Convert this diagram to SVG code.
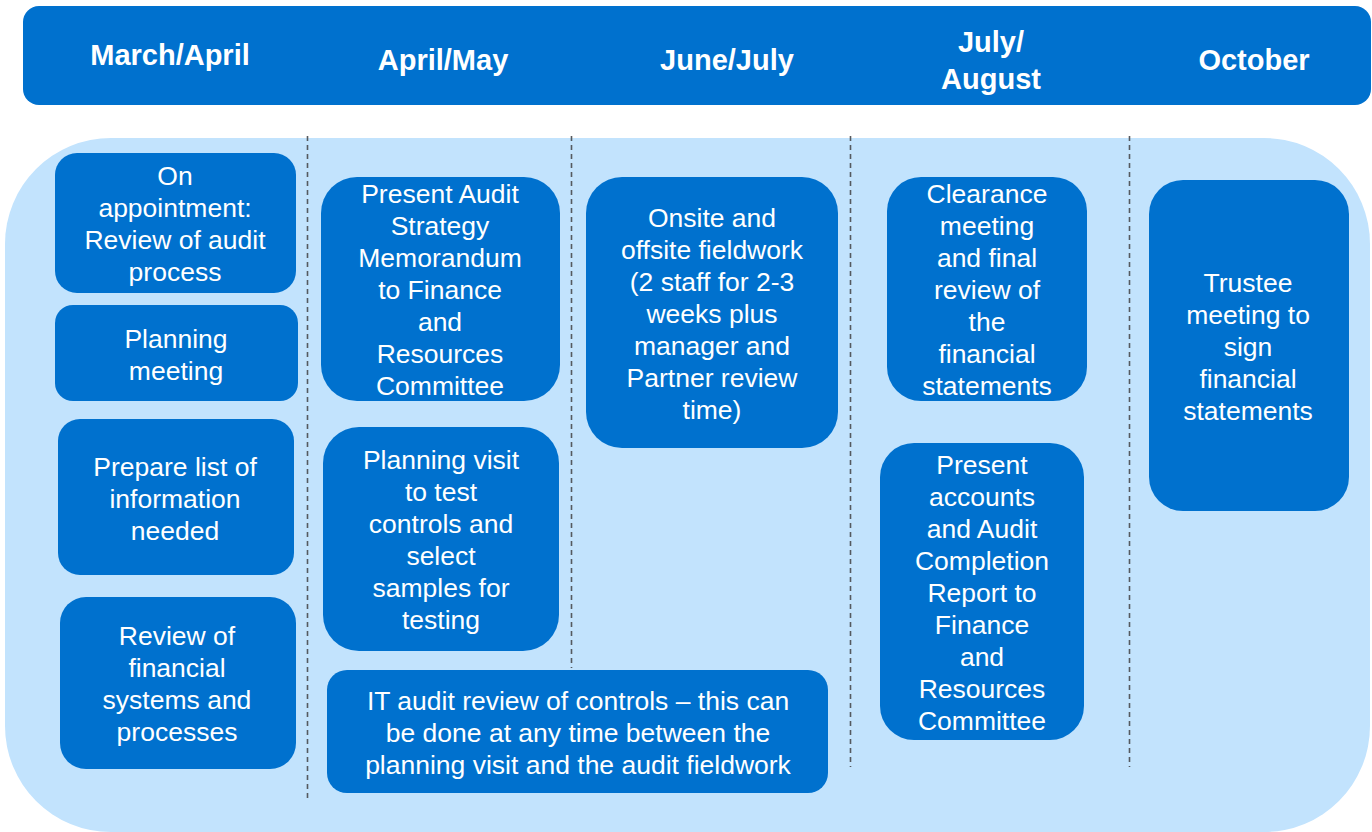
<svg xmlns="http://www.w3.org/2000/svg" width="1372" height="832" viewBox="0 0 1372 832">
  <style>
    .hdr { fill: #0071CE; }
    .bg { fill: #C2E3FD; }
    .box { fill: #0071CE; }
    .sep { stroke: #555A60; stroke-width: 1.6; stroke-dasharray: 5 4; fill: none; }
    .ht { font-family: "Liberation Sans", Arial, sans-serif; font-weight: bold; font-size: 29px; fill: #FFFFFF; text-anchor: middle; }
    .t { font-family: "Liberation Sans", Arial, sans-serif; font-size: 26.5px; fill: #FFFFFF; text-anchor: middle; }
  </style>

  <!-- header band with period titles -->
  <g id="header">
    <rect class="hdr" x="23" y="6" width="1348" height="99" rx="16"/>
    <text class="ht" x="170" y="65">March/April</text>
    <text class="ht" x="443" y="70">April/May</text>
    <text class="ht" x="727" y="70">June/July</text>
    <text class="ht" x="991" y="52">July/</text>
    <text class="ht" x="991" y="89">August</text>
    <text class="ht" x="1254" y="70">October</text>
  </g>

  <!-- light panel behind the activities -->
  <rect id="panel" class="bg" x="5" y="138" width="1365" height="694" rx="106"/>

  <!-- dashed period separators -->
  <g id="connectors">
    <line class="sep" x1="307.5" y1="136" x2="307.5" y2="801"/>
    <line class="sep" x1="571.5" y1="136" x2="571.5" y2="668"/>
    <line class="sep" x1="850.5" y1="136" x2="850.5" y2="767"/>
    <line class="sep" x1="1129.5" y1="136" x2="1129.5" y2="767"/>
  </g>

  <g id="n-appointment">
    <rect class="box" x="55" y="153" width="241" height="140" rx="22"/>
    <text class="t" x="175" y="185">On</text>
    <text class="t" x="175" y="217">appointment:</text>
    <text class="t" x="175" y="249">Review of audit</text>
    <text class="t" x="175" y="281">process</text>
  </g>

  <g id="n-planning-meeting">
    <rect class="box" x="55" y="305" width="243" height="96" rx="18"/>
    <text class="t" x="176" y="348">Planning</text>
    <text class="t" x="176" y="380">meeting</text>
  </g>

  <g id="n-prepare-list">
    <rect class="box" x="58" y="419" width="236" height="156" rx="22"/>
    <text class="t" x="175" y="476">Prepare list of</text>
    <text class="t" x="175" y="508">information</text>
    <text class="t" x="175" y="540">needed</text>
  </g>

  <g id="n-review-systems">
    <rect class="box" x="60" y="597" width="236" height="172" rx="26"/>
    <text class="t" x="177" y="645">Review of</text>
    <text class="t" x="177" y="677">financial</text>
    <text class="t" x="177" y="709">systems and</text>
    <text class="t" x="177" y="741">processes</text>
  </g>

  <g id="n-strategy">
    <rect class="box" x="321" y="177" width="239" height="224" rx="36"/>
    <text class="t" x="440" y="203">Present Audit</text>
    <text class="t" x="440" y="235">Strategy</text>
    <text class="t" x="440" y="267">Memorandum</text>
    <text class="t" x="440" y="299">to Finance</text>
    <text class="t" x="440" y="331">and</text>
    <text class="t" x="440" y="363">Resources</text>
    <text class="t" x="440" y="395">Committee</text>
  </g>

  <g id="n-planning-visit">
    <rect class="box" x="323" y="427" width="236" height="224" rx="36"/>
    <text class="t" x="441" y="469">Planning visit</text>
    <text class="t" x="441" y="501">to test</text>
    <text class="t" x="441" y="533">controls and</text>
    <text class="t" x="441" y="565">select</text>
    <text class="t" x="441" y="597">samples for</text>
    <text class="t" x="441" y="629">testing</text>
  </g>

  <g id="n-it-audit">
    <rect class="box" x="327" y="670" width="501" height="123" rx="20"/>
    <text class="t" x="578" y="710">IT audit review of controls – this can</text>
    <text class="t" x="578" y="742">be done at any time between the</text>
    <text class="t" x="578" y="774">planning visit and the audit fieldwork</text>
  </g>

  <g id="n-fieldwork">
    <rect class="box" x="586" y="177" width="252" height="271" rx="36"/>
    <text class="t" x="712" y="227">Onsite and</text>
    <text class="t" x="712" y="259">offsite fieldwork</text>
    <text class="t" x="712" y="291">(2 staff for 2-3</text>
    <text class="t" x="712" y="323">weeks plus</text>
    <text class="t" x="712" y="355">manager and</text>
    <text class="t" x="712" y="387">Partner review</text>
    <text class="t" x="712" y="419">time)</text>
  </g>

  <g id="n-clearance">
    <rect class="box" x="887" y="177" width="200" height="224" rx="34"/>
    <text class="t" x="987" y="203">Clearance</text>
    <text class="t" x="987" y="235">meeting</text>
    <text class="t" x="987" y="267">and final</text>
    <text class="t" x="987" y="299">review of</text>
    <text class="t" x="987" y="331">the</text>
    <text class="t" x="987" y="363">financial</text>
    <text class="t" x="987" y="395">statements</text>
  </g>

  <g id="n-completion">
    <rect class="box" x="880" y="443" width="204" height="297" rx="34"/>
    <text class="t" x="982" y="474">Present</text>
    <text class="t" x="982" y="506">accounts</text>
    <text class="t" x="982" y="538">and Audit</text>
    <text class="t" x="982" y="570">Completion</text>
    <text class="t" x="982" y="602">Report to</text>
    <text class="t" x="982" y="634">Finance</text>
    <text class="t" x="982" y="666">and</text>
    <text class="t" x="982" y="698">Resources</text>
    <text class="t" x="982" y="730">Committee</text>
  </g>

  <g id="n-trustee">
    <rect class="box" x="1149" y="180" width="200" height="331" rx="34"/>
    <text class="t" x="1248" y="292">Trustee</text>
    <text class="t" x="1248" y="324">meeting to</text>
    <text class="t" x="1248" y="356">sign</text>
    <text class="t" x="1248" y="388">financial</text>
    <text class="t" x="1248" y="420">statements</text>
  </g>
</svg>
